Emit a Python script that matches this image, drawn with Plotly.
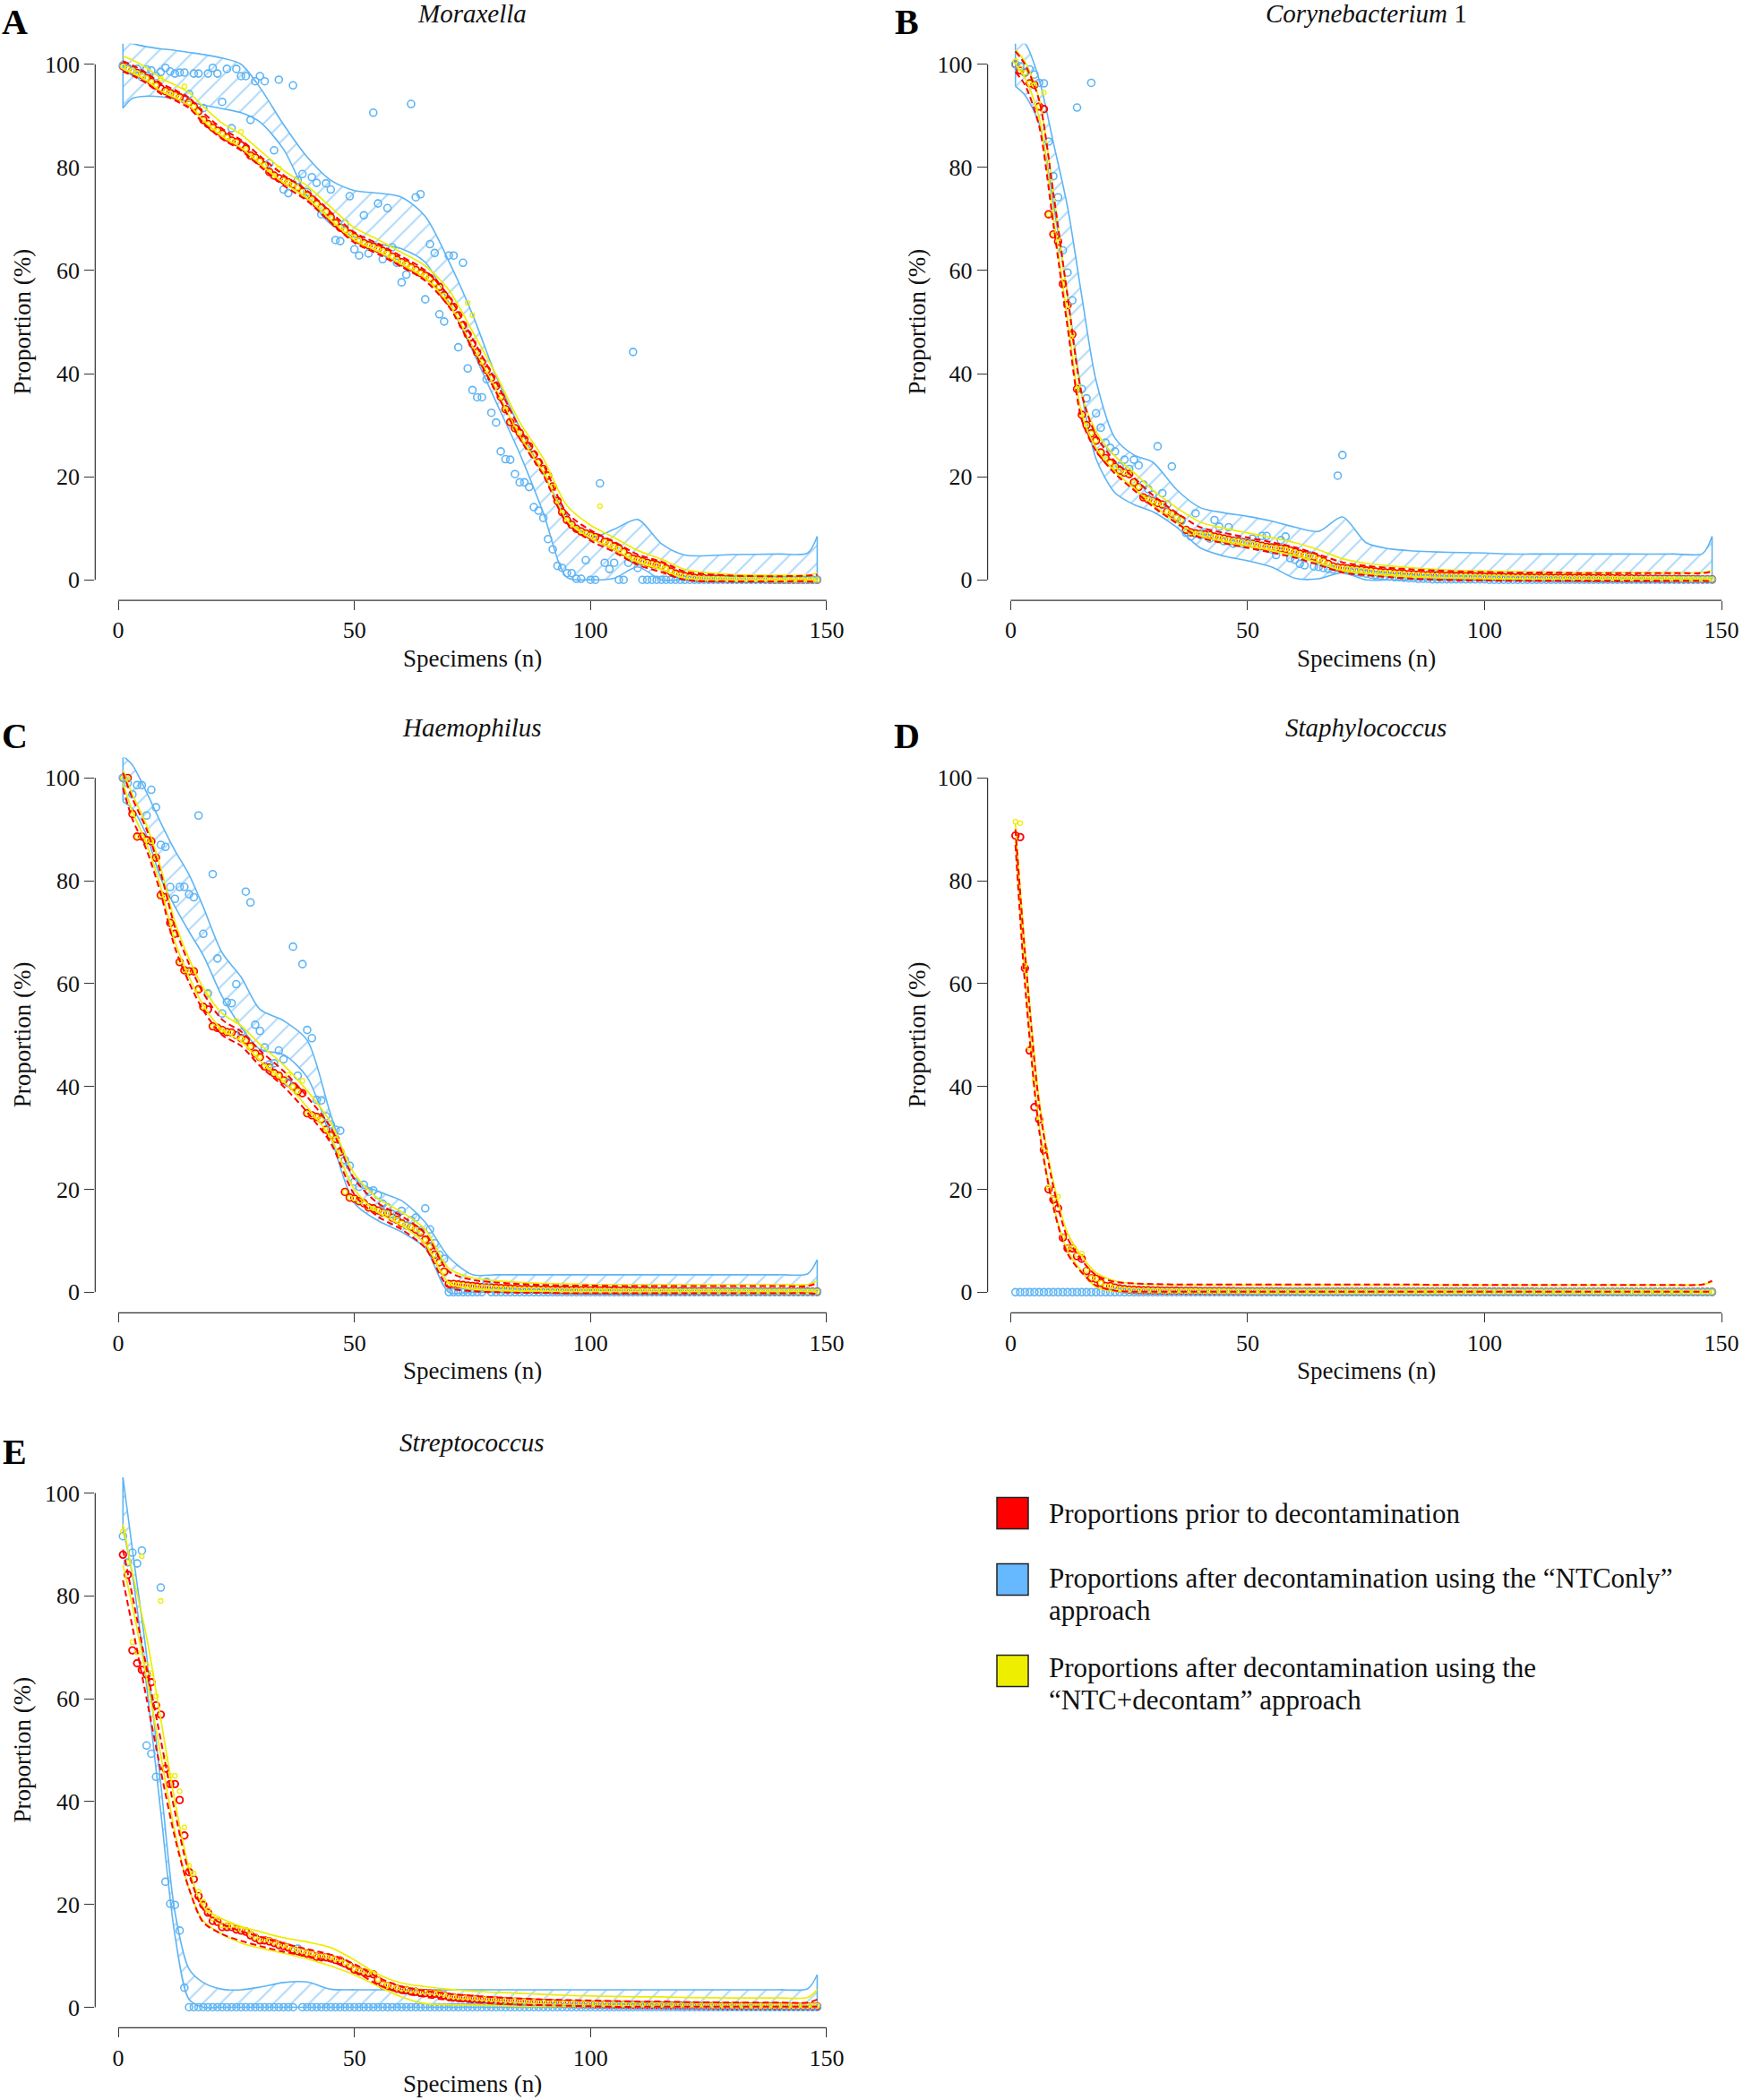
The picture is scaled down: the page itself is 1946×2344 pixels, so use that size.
import plotly.graph_objects as go

W, H = 1946, 2344
SPECIMENS = list(range(1, 149))
KNOTS = [1, 3, 6, 9, 12, 15, 18, 22, 26, 30, 35, 40, 45, 50, 55, 60, 65, 70, 75, 80,
         85, 90, 95, 100, 105, 110, 115, 120, 130, 140, 146, 148]
X_TICKS = [0, 50, 100, 150]
Y_TICKS = [0, 20, 40, 60, 80, 100]

# ---------------- Panel A : Moraxella ----------------
A_prior = [99.6, 99.2, 98.8, 98.3, 97.9, 97.3, 96.6, 95.9, 95.3, 94.8,
           94.4, 94.0, 93.6, 93.2, 92.6, 91.8, 90.9, 89.2, 88.4, 87.7,
           87.1, 86.5, 85.8, 85.2, 84.9, 84.3, 83.6, 82.3, 81.9, 81.2,
           80.4, 79.1, 78.4, 77.9, 77.5, 77.1, 76.7, 76.1, 75.3, 74.6,
           73.8, 72.9, 72.2, 71.4, 70.3, 69.2, 68.3, 67.8, 67.1, 66.5,
           65.9, 65.3, 64.9, 64.6, 64.2, 63.8, 63.3, 62.7, 62.1, 61.6,
           61.2, 60.6, 60.1, 59.5, 59.0, 58.5, 57.6, 56.8, 55.2, 54.1,
           52.9, 51.3, 49.4, 47.6, 45.8, 44.1, 42.3, 40.7, 39.2, 37.6,
           35.5, 33.1, 30.6, 29.4, 28.5, 27.2, 25.9, 24.3, 22.8, 21.5,
           20.2, 18.1, 15.3, 13.1, 11.6, 10.7, 9.9, 9.4, 9.0, 8.6,
           8.3, 7.9, 7.4, 7.0, 6.5, 6.1, 5.4, 4.6, 4.1, 3.9,
           3.6, 3.3, 3.1, 2.9, 2.7, 2.2, 1.6, 1.2, 0.9, 0.7,
           0.5, 0.4, 0.3, 0.3, 0.2, 0.2, 0.2, 0.2, 0.1, 0.1,
           0.1, 0.1, 0.1, 0.1, 0.1, 0.1, 0.1, 0.0, 0.0, 0.0,
           0.0, 0.0, 0.0, 0.0, 0.0, 0.0, 0.0, 0.0]
A_ntconly = [99.8, 99.3, 98.6, 99.1, 97.5, 99.0, 98.8, 97.7, 98.5, 99.3,
             98.6, 98.2, 98.4, 98.4, 94.2, 98.2, 98.2, 91.5, 98.2, 99.3,
             98.2, 92.7, 99.1, 87.6, 99.1, 97.7, 97.7, 89.2, 96.7, 97.7,
             96.7, 80.8, 83.3, 97.0, 75.7, 75.0, 95.9, 77.5, 78.7, 75.2,
             78.1, 77.0, 70.9, 76.9, 75.7, 65.9, 65.7, 69.1, 74.4, 64.1,
             62.9, 70.7, 63.3, 90.6, 73.0, 62.2, 72.1, 64.5, 61.5, 57.7,
             59.2, 92.3, 74.2, 74.8, 54.4, 65.1, 63.4, 51.5, 50.1, 62.9,
             62.9, 45.1, 61.5, 41.0, 36.8, 35.4, 35.4, 38.9, 32.4, 30.5,
             24.9, 23.4, 23.3, 20.5, 18.9, 18.9, 18.0, 14.1, 13.4, 12.0,
             7.9, 5.9, 2.7, 2.3, 1.3, 1.3, 0.2, 0.2, 3.8, 0.0,
             0.0, 18.7, 3.3, 2.1, 3.3, 0.0, 0.0, 3.3, 44.2, 2.3,
             0.0, 0.0, 0.0, 0.0, 0.0, 0.0, 0.0, 0.0, 0.0, 0.0,
             0.0, 0.0, 0.0, 0.0, 0.0, 0.0, 0.0, 0.0, 0.0, 0.0,
             0.0, 0.0, 0.0, 0.0, 0.0, 0.0, 0.0, 0.0, 0.0, 0.0,
             0.0, 0.0, 0.0, 0.0, 0.0, 0.0, 0.0, 0.0]
A_decontam = [99.6, 99.2, 98.8, 98.3, 97.9, 97.3, 96.6, 95.9, 97.2, 94.8,
              94.4, 94.0, 93.6, 95.7, 92.6, 91.8, 90.9, 89.2, 88.4, 87.7,
              87.1, 86.5, 85.8, 85.2, 84.9, 86.9, 83.6, 82.3, 81.9, 81.2,
              80.4, 79.1, 78.4, 79.8, 77.5, 77.1, 76.7, 76.1, 75.3, 74.6,
              73.8, 72.9, 72.2, 71.4, 70.3, 69.2, 68.3, 67.8, 67.1, 66.5,
              65.9, 65.3, 64.9, 64.6, 64.2, 63.8, 63.3, 62.7, 62.1, 61.6,
              61.2, 60.6, 60.1, 59.5, 59.0, 58.5, 57.6, 56.8, 55.2, 54.1,
              52.9, 51.3, 49.4, 53.7, 51.3, 44.1, 42.3, 40.7, 39.2, 37.6,
              35.5, 33.1, 30.6, 29.4, 28.5, 27.2, 25.9, 24.3, 22.8, 21.5,
              20.2, 18.1, 15.3, 13.1, 11.6, 10.7, 9.9, 9.4, 9.0, 8.6,
              8.3, 14.3, 7.4, 7.0, 6.5, 6.1, 5.4, 4.6, 4.1, 3.9,
              3.6, 3.3, 3.1, 2.9, 2.7, 2.2, 1.6, 1.2, 0.9, 0.7,
              0.5, 0.4, 0.3, 0.3, 0.2, 0.2, 0.2, 0.2, 0.1, 0.1,
              0.1, 0.1, 0.1, 0.1, 0.1, 0.1, 0.1, 0.0, 0.0, 0.0,
              0.0, 0.0, 0.0, 0.0, 0.0, 0.0, 0.0, 0.0]
A_ntc_band_up = [104.4, 104.0, 103.4, 103.0, 102.7, 102.3, 101.9, 101.2, 100.0, 95.5, 88.3, 82.0,
                 77.5, 75.5, 75.0, 74.2, 70.5, 61.8, 51.5, 39.5, 29.5, 20.5, 12.5, 8.3, 9.8, 11.7,
                 7.0, 4.8, 4.9, 5.0, 5.2, 8.4]
A_ntc_band_lo = [91.5, 93.4, 93.8, 93.7, 93.3, 92.8, 92.1, 91.4, 90.6, 88.8, 83.5, 74.5,
                 69.0, 66.5, 65.2, 64.2, 61.6, 53.8, 44.5, 34.5, 24.5, 13.0, 0.5, 0.0, 0.3, 2.5,
                 0.0, 0.0, 0.0, 0.0, 0.0, 0.0]
A_prior_ci_up = [100.6, 99.8, 98.3, 96.3, 95.0, 93.5, 90.6, 87.5, 85.3, 82.2, 78.5, 75.5,
                 71.3, 67.4, 65.2, 62.7, 60.0, 55.0, 46.8, 38.4, 29.4, 22.3, 13.0, 9.6, 7.4, 4.9,
                 3.5, 1.6, 0.8, 0.7, 0.8, 1.0]
A_prior_ci_lo = [98.6, 97.8, 96.3, 94.3, 93.0, 91.5, 88.6, 85.5, 83.3, 80.2, 76.5, 73.5,
                 69.3, 65.4, 63.2, 60.7, 58.0, 53.0, 44.8, 36.4, 27.4, 20.3, 11.0, 7.6, 5.4, 2.9,
                 1.5, 0.0, -0.3, -0.3, -0.3, -0.4]
A_dec_ci_up = [101.6, 100.8, 99.3, 97.3, 96.0, 94.5, 91.8, 88.6, 86.4, 83.3, 79.4, 76.4,
               72.3, 68.3, 66.0, 63.5, 60.9, 56.2, 48.2, 39.8, 30.6, 23.5, 14.4, 10.6, 8.2, 5.7,
               4.0, 2.0, 1.0, 0.9, 0.9, 1.3]
A_dec_ci_lo = [99.1, 98.3, 96.8, 94.8, 93.5, 92.0, 89.1, 86.0, 83.8, 80.7, 77.0, 74.0,
               69.8, 65.9, 63.7, 61.2, 58.5, 53.5, 45.3, 36.9, 27.9, 20.8, 11.5, 8.1, 5.9, 3.4,
               2.0, 0.3, 0.0, 0.0, 0.0, 0.0]

# ---------------- Panel B : Corynebacterium 1 ----------------
B_prior = [100.0, 98.8, 98.4, 96.3, 96.0, 91.8, 91.3, 70.9, 67.0, 65.6,
           57.4, 53.3, 47.6, 37.0, 32.0, 30.0, 28.4, 27.0, 24.7, 23.6,
           22.7, 21.9, 21.2, 20.8, 20.5, 18.9, 18.0, 16.0, 15.6, 15.3,
           14.9, 14.6, 13.2, 12.8, 12.1, 11.6, 9.7, 9.2, 9.0, 8.9,
           8.8, 8.7, 8.4, 8.2, 8.0, 7.8, 7.6, 7.5, 7.3, 7.1,
           7.0, 6.8, 6.6, 6.4, 6.3, 6.2, 6.1, 6.0, 5.7, 5.4,
           5.1, 4.8, 4.6, 4.5, 4.0, 3.6, 3.1, 2.6, 2.4, 2.3,
           2.2, 2.1, 2.0, 1.9, 1.8, 1.7, 1.6, 1.5, 1.45, 1.4,
           1.3, 1.25, 1.2, 1.1, 1.05, 1.0, 0.95, 0.9, 0.88, 0.85,
           0.8, 0.78, 0.75, 0.72, 0.7, 0.68, 0.66, 0.64, 0.62, 0.6,
           0.58, 0.56, 0.55, 0.53, 0.52, 0.5, 0.49, 0.48, 0.46, 0.45,
           0.44, 0.43, 0.42, 0.41, 0.4, 0.39, 0.38, 0.37, 0.36, 0.35,
           0.34, 0.33, 0.32, 0.31, 0.3, 0.3, 0.29, 0.28, 0.27, 0.26,
           0.25, 0.24, 0.23, 0.22, 0.21, 0.2, 0.19, 0.18, 0.17, 0.16,
           0.15, 0.14, 0.13, 0.12, 0.11, 0.1, 0.1, 0.1]
B_ntconly = [100.0, 99.6, 98.5, 99.0, 98.0, 96.4, 96.3, 85.0, 78.3, 74.2,
             63.9, 59.6, 54.2, 91.6, 37.0, 35.2, 96.4, 32.3, 29.5, 26.6,
             25.6, 24.9, 22.0, 23.3, 21.5, 23.3, 22.2, 18.5, 17.6, 16.5,
             25.9, 16.8, 14.6, 22.0, 11.8, 11.4, 9.1, 8.4, 12.9, 8.7,
             9.2, 8.0, 11.6, 10.3, 7.5, 10.2, 7.0, 7.8, 6.9, 7.3,
             8.0, 6.5, 8.5, 8.5, 5.9, 4.8, 7.7, 8.4, 4.2, 3.9,
             3.1, 2.8, 4.8, 2.6, 2.5, 2.3, 2.1, 2.0, 20.2, 24.2,
             1.8, 1.6, 1.5, 1.4, 1.2, 1.0, 0.9, 0.8, 0.7, 0.6,
             0.5, 0.5, 0.4, 0.3, 0.3, 0.2, 0.2, 0.2, 0.1, 0.1,
             0.1, 0.1, 0.1, 0.1, 0.1, 0.1, 0.1, 0.1, 0.1, 0.1,
             0.0, 0.0, 0.0, 0.0, 0.0, 0.0, 0.0, 0.0, 0.0, 0.0,
             0.0, 0.0, 0.0, 0.0, 0.0, 0.0, 0.0, 0.0, 0.0, 0.0,
             0.0, 0.0, 0.0, 0.0, 0.0, 0.0, 0.0, 0.0, 0.0, 0.0,
             0.0, 0.0, 0.0, 0.0, 0.0, 0.0, 0.0, 0.0, 0.0, 0.0,
             0.0, 0.0, 0.0, 0.0, 0.0, 0.0, 0.0, 0.0]
B_decontam = [100.6, 99.2, 98.4, 96.3, 96.0, 91.8, 94.5, 70.9, 67.0, 65.6,
              57.4, 53.3, 47.6, 37.0, 32.0, 30.0, 28.4, 27.0, 24.7, 23.6,
              22.7, 21.9, 21.2, 20.8, 20.5, 18.9, 18.0, 16.0, 15.6, 15.3,
              14.9, 14.6, 13.2, 12.8, 12.1, 11.6, 9.7, 9.2, 9.0, 8.9,
              8.8, 8.7, 8.4, 8.2, 8.0, 7.8, 7.6, 7.5, 7.3, 7.1,
              7.0, 6.8, 6.6, 6.4, 6.3, 6.2, 6.1, 6.0, 5.7, 5.4,
              5.1, 4.8, 4.6, 4.5, 4.0, 3.6, 3.1, 2.6, 2.4, 2.3,
              2.2, 2.1, 2.0, 1.9, 1.8, 1.7, 1.6, 1.5, 1.45, 1.4,
              1.3, 1.25, 1.2, 1.1, 1.05, 1.0, 0.95, 0.9, 0.88, 0.85,
              0.8, 0.78, 0.75, 0.72, 0.7, 0.68, 0.66, 0.64, 0.62, 0.6,
              0.58, 0.56, 0.55, 0.53, 0.52, 0.5, 0.49, 0.48, 0.46, 0.45,
              0.44, 0.43, 0.42, 0.41, 0.4, 0.39, 0.38, 0.37, 0.36, 0.35,
              0.34, 0.33, 0.32, 0.31, 0.3, 0.3, 0.29, 0.28, 0.27, 0.26,
              0.25, 0.24, 0.23, 0.22, 0.21, 0.2, 0.19, 0.18, 0.17, 0.16,
              0.15, 0.14, 0.13, 0.12, 0.11, 0.1, 0.1, 0.1]
B_ntc_band_up = [104.3, 104.0, 97.0, 84.8, 72.3, 55.0, 38.7, 27.5, 24.2, 22.8, 17.5, 14.0,
                 13.0, 12.3, 11.4, 10.2, 9.4, 12.2, 7.2, 6.0, 5.6, 5.4, 5.3, 5.2, 5.0, 5.0,
                 5.0, 5.0, 5.0, 5.0, 5.1, 8.4]
B_ntc_band_lo = [95.7, 94.0, 88.5, 73.0, 55.2, 36.0, 23.5, 16.9, 14.6, 13.2, 10.2, 6.2,
                 4.6, 3.7, 2.5, 0.3, 0.2, 1.4, 0.0, 0.0, 0.0, 0.0, 0.0, 0.0, 0.0, 0.0,
                 0.0, 0.0, 0.0, 0.0, 0.0, 0.0]
B_prior_ci_up = [102.5, 100.0, 93.0, 75.0, 55.0, 36.0, 28.0, 23.0, 19.8, 16.4, 13.0, 10.2,
                 9.1, 8.2, 7.3, 6.3, 4.9, 3.4, 2.7, 2.3, 2.0, 1.8, 1.6, 1.5, 1.4, 1.4,
                 1.4, 1.3, 1.3, 1.3, 1.3, 1.6]
B_prior_ci_lo = [98.5, 96.0, 88.0, 69.0, 49.0, 31.0, 25.0, 20.6, 17.4, 14.2, 11.0, 8.2,
                 7.1, 6.2, 5.3, 4.3, 2.9, 1.4, 0.9, 0.5, 0.2, 0.0, -0.1, -0.1, -0.2, -0.2,
                 -0.2, -0.2, -0.2, -0.2, -0.2, -0.3]
B_dec_ci_up = [102.8, 100.5, 93.3, 75.2, 55.0, 36.0, 28.8, 24.0, 20.8, 17.4, 14.0, 11.2,
               10.0, 9.1, 8.2, 7.2, 5.8, 4.1, 3.2, 2.7, 2.3, 2.0, 1.8, 1.7, 1.6, 1.5,
               1.5, 1.4, 1.4, 1.4, 1.4, 1.8]
B_dec_ci_lo = [100.0, 97.4, 89.7, 70.5, 50.5, 32.2, 25.6, 21.0, 17.8, 14.5, 11.2, 8.5,
               7.4, 6.5, 5.7, 4.7, 3.3, 1.8, 1.2, 0.8, 0.5, 0.4, 0.3, 0.2, 0.2, 0.1,
               0.1, 0.1, 0.1, 0.1, 0.1, 0.1]

# ---------------- Panel C : Haemophilus ----------------
C_prior = [100.0, 100.0, 93.0, 88.6, 88.6, 87.9, 87.7, 84.5, 77.2, 76.8,
           71.8, 69.7, 64.2, 62.6, 62.4, 62.4, 58.9, 55.5, 55.0, 51.7,
           51.4, 51.0, 50.6, 50.5, 50.0, 49.4, 49.0, 47.8, 46.4, 45.7,
           43.9, 43.7, 42.6, 42.1, 41.2, 40.7, 40.0, 39.1, 38.7, 34.8,
           34.4, 34.1, 33.6, 31.6, 30.5, 29.8, 27.3, 19.5, 18.4, 18.2,
           17.7, 17.3, 16.5, 16.3, 15.9, 15.5, 15.3, 14.5, 14.1, 13.4,
           13.0, 12.7, 12.2, 11.6, 10.2, 8.9, 7.3, 5.8, 4.0, 1.6,
           1.6, 1.5, 1.4, 1.3, 1.2, 1.1, 1.0, 0.95, 0.9, 0.85,
           0.8, 0.75, 0.7, 0.65, 0.6, 0.58, 0.56, 0.54, 0.52, 0.5,
           0.48, 0.46, 0.44, 0.42, 0.4, 0.39, 0.38, 0.37, 0.36, 0.35,
           0.34, 0.33, 0.32, 0.31, 0.3, 0.29, 0.28, 0.27, 0.26, 0.25,
           0.24, 0.23, 0.22, 0.21, 0.2, 0.2, 0.19, 0.19, 0.18, 0.18,
           0.17, 0.17, 0.16, 0.16, 0.15, 0.15, 0.14, 0.14, 0.13, 0.13,
           0.12, 0.12, 0.12, 0.11, 0.11, 0.11, 0.1, 0.1, 0.1, 0.1,
           0.1, 0.1, 0.1, 0.1, 0.1, 0.1, 0.1, 0.1]
C_ntconly = [100.0, 99.0, 96.8, 98.6, 98.6, 92.7, 97.7, 94.3, 87.0, 86.6,
             78.8, 76.5, 78.8, 78.8, 77.4, 76.8, 92.7, 69.7, 58.1, 81.3,
             64.9, 54.2, 56.4, 56.2, 59.9, 50.5, 77.9, 75.8, 52.0, 50.8,
             47.6, 44.3, 44.5, 47.0, 45.3, 40.8, 67.2, 42.1, 63.8, 51.0,
             49.4, 37.4, 37.3, 34.2, 32.6, 31.6, 31.4, 25.7, 24.6, 21.5,
             20.5, 20.9, 19.5, 19.8, 18.9, 17.2, 16.5, 15.2, 15.0, 15.8,
             13.0, 14.0, 14.5, 12.0, 16.3, 12.2, 9.5, 7.3, 6.5, 0.0,
             0.0, 0.0, 0.0, 0.0, 0.0, 0.0, 0.0, 2.0, 0.0, 0.0,
             0.0, 0.0, 0.0, 0.0, 0.0, 0.0, 0.0, 0.0, 0.0, 0.0,
             0.0, 0.0, 0.0, 0.0, 0.0, 0.0, 0.0, 0.0, 0.0, 0.0,
             0.0, 0.0, 0.0, 0.0, 0.0, 0.0, 0.0, 0.0, 0.0, 0.0,
             0.0, 0.0, 0.0, 0.0, 0.0, 0.0, 0.0, 0.0, 0.0, 0.0,
             0.0, 0.0, 0.0, 0.0, 0.0, 0.0, 0.0, 0.0, 0.0, 0.0,
             0.0, 0.0, 0.0, 0.0, 0.0, 0.0, 0.0, 0.0, 0.0, 0.0,
             0.0, 0.0, 0.0, 0.0, 0.0, 0.0, 0.0, 0.0]
C_decontam = [100.0, 100.0, 93.0, 88.6, 88.6, 87.9, 87.7, 84.5, 77.2, 76.8,
              71.8, 69.7, 64.2, 62.6, 62.4, 62.4, 58.9, 55.5, 58.1, 51.7,
              51.4, 51.0, 50.6, 50.5, 52.8, 49.4, 49.0, 47.8, 46.4, 45.7,
              43.9, 43.7, 42.6, 42.1, 41.2, 42.3, 40.0, 39.1, 41.1, 34.8,
              34.4, 34.1, 33.6, 31.6, 30.5, 29.8, 27.3, 19.5, 18.4, 18.2,
              17.7, 17.3, 16.5, 16.3, 15.9, 15.5, 15.3, 14.5, 14.1, 13.4,
              13.0, 12.7, 12.2, 11.6, 10.2, 8.9, 7.3, 5.8, 4.0, 1.6,
              1.6, 1.5, 1.4, 1.3, 1.2, 1.1, 1.0, 0.95, 0.9, 0.85,
              0.8, 0.75, 0.7, 0.65, 0.6, 0.58, 0.56, 0.54, 0.52, 0.5,
              0.48, 0.46, 0.44, 0.42, 0.4, 0.39, 0.38, 0.37, 0.36, 0.35,
              0.34, 0.33, 0.32, 0.31, 0.3, 0.29, 0.28, 0.27, 0.26, 0.25,
              0.24, 0.23, 0.22, 0.21, 0.2, 0.2, 0.19, 0.19, 0.18, 0.18,
              0.17, 0.17, 0.16, 0.16, 0.15, 0.15, 0.14, 0.14, 0.13, 0.13,
              0.12, 0.12, 0.12, 0.11, 0.11, 0.11, 0.1, 0.1, 0.1, 0.1,
              0.1, 0.1, 0.1, 0.1, 0.1, 0.1, 0.1, 0.1]
C_ntc_band_up = [104.3, 102.5, 97.2, 91.3, 85.9, 81.2, 74.9, 66.0, 61.3, 55.0, 52.8, 49.0,
                 34.5, 22.0, 19.6, 17.8, 13.6, 6.8, 3.4, 3.4, 3.4, 3.4, 3.4, 3.4, 3.4, 3.4,
                 3.4, 3.4, 3.4, 3.4, 3.6, 6.3]
C_ntc_band_lo = [95.4, 94.0, 88.8, 80.5, 75.0, 70.1, 65.5, 57.5, 51.6, 47.2, 46.2, 41.8,
                 30.1, 17.3, 13.9, 11.7, 8.6, 0.0, 0.0, 0.0, 0.0, 0.0, 0.0, 0.0, 0.0, 0.0,
                 0.0, 0.0, 0.0, 0.0, 0.0, 0.0]
C_prior_ci_up = [101.0, 96.0, 90.0, 81.5, 71.0, 63.8, 58.2, 53.0, 50.7, 47.0, 43.0, 38.0,
                 32.0, 22.0, 17.3, 14.8, 11.4, 4.0, 2.4, 1.9, 1.6, 1.4, 1.3, 1.3, 1.2, 1.2,
                 1.2, 1.2, 1.2, 1.2, 1.2, 1.8]
C_prior_ci_lo = [98.0, 92.0, 86.0, 77.5, 67.0, 60.2, 54.8, 50.0, 47.9, 44.0, 40.0, 35.0,
                 29.0, 19.0, 14.7, 12.2, 8.6, 1.0, 0.2, 0.0, -0.1, -0.1, -0.2, -0.2, -0.2, -0.2,
                 -0.2, -0.2, -0.2, -0.2, -0.2, -0.4]
C_dec_ci_up = [101.5, 96.8, 90.8, 82.5, 72.0, 64.8, 59.2, 54.2, 51.8, 48.2, 44.2, 39.2,
               33.0, 23.0, 18.2, 15.6, 12.2, 4.6, 2.8, 2.2, 1.9, 1.7, 1.6, 1.5, 1.5, 1.5,
               1.5, 1.5, 1.5, 1.5, 1.5, 2.2]
C_dec_ci_lo = [99.0, 93.5, 87.2, 78.8, 68.2, 61.3, 55.8, 51.0, 48.8, 45.0, 41.0, 36.0,
               30.0, 20.0, 15.5, 13.0, 9.4, 1.8, 0.6, 0.3, 0.2, 0.2, 0.1, 0.1, 0.1, 0.1,
               0.1, 0.1, 0.1, 0.1, 0.1, 0.1]

# ---------------- Panel D : Staphylococcus ----------------
D_prior = [88.8, 88.5, 63.0, 47.0, 36.0, 33.6, 27.7, 20.0, 18.0, 16.3,
           10.6, 8.5, 8.5, 7.0, 6.5, 4.1, 2.7, 2.6, 1.8, 1.2,
           1.2, 0.9, 0.7, 0.6, 0.5, 0.45, 0.4, 0.38, 0.36, 0.34,
           0.32, 0.3, 0.29, 0.28, 0.27, 0.26, 0.25, 0.24, 0.23, 0.22,
           0.21, 0.2, 0.2, 0.19, 0.19, 0.18, 0.18, 0.17, 0.17, 0.16,
           0.16, 0.15, 0.15, 0.15, 0.14, 0.14, 0.14, 0.13, 0.13, 0.13,
           0.12, 0.12, 0.12, 0.12, 0.12, 0.12, 0.12, 0.12, 0.12, 0.12,
           0.11, 0.11, 0.11, 0.11, 0.11, 0.11, 0.11, 0.11, 0.11, 0.11,
           0.1, 0.1, 0.1, 0.1, 0.1, 0.1, 0.1, 0.1, 0.1, 0.1,
           0.1, 0.1, 0.1, 0.1, 0.1, 0.1, 0.1, 0.1, 0.1, 0.1,
           0.09, 0.09, 0.09, 0.09, 0.09, 0.09, 0.09, 0.09, 0.09, 0.09,
           0.08, 0.08, 0.08, 0.08, 0.08, 0.08, 0.08, 0.08, 0.08, 0.08,
           0.07, 0.07, 0.07, 0.07, 0.07, 0.07, 0.07, 0.07, 0.07, 0.07,
           0.06, 0.06, 0.06, 0.06, 0.06, 0.06, 0.06, 0.06, 0.06, 0.06,
           0.05, 0.05, 0.05, 0.05, 0.05, 0.05, 0.05, 0.05]
D_ntconly = [0.0, 0.0, 0.0, 0.0, 0.0, 0.0, 0.0, 0.0, 0.0, 0.0,
             0.0, 0.0, 0.0, 0.0, 0.0, 0.0, 0.0, 0.0, 0.0, 0.0,
             0.0, 0.0, 0.0, 0.0, 0.0, 0.0, 0.0, 0.0, 0.0, 0.0,
             0.0, 0.0, 0.0, 0.0, 0.0, 0.0, 0.0, 0.0, 0.0, 0.0,
             0.0, 0.0, 0.0, 0.0, 0.0, 0.0, 0.0, 0.0, 0.0, 0.0,
             0.0, 0.0, 0.0, 0.0, 0.0, 0.0, 0.0, 0.0, 0.0, 0.0,
             0.0, 0.0, 0.0, 0.0, 0.0, 0.0, 0.0, 0.0, 0.0, 0.0,
             0.0, 0.0, 0.0, 0.0, 0.0, 0.0, 0.0, 0.0, 0.0, 0.0,
             0.0, 0.0, 0.0, 0.0, 0.0, 0.0, 0.0, 0.0, 0.0, 0.0,
             0.0, 0.0, 0.0, 0.0, 0.0, 0.0, 0.0, 0.0, 0.0, 0.0,
             0.0, 0.0, 0.0, 0.0, 0.0, 0.0, 0.0, 0.0, 0.0, 0.0,
             0.0, 0.0, 0.0, 0.0, 0.0, 0.0, 0.0, 0.0, 0.0, 0.0,
             0.0, 0.0, 0.0, 0.0, 0.0, 0.0, 0.0, 0.0, 0.0, 0.0,
             0.0, 0.0, 0.0, 0.0, 0.0, 0.0, 0.0, 0.0, 0.0, 0.0,
             0.0, 0.0, 0.0, 0.0, 0.0, 0.0, 0.0, 0.0]
D_decontam = [91.5, 91.2, 63.5, 47.5, 41.2, 33.8, 28.0, 20.3, 18.2, 18.6,
              10.8, 8.7, 8.7, 7.3, 7.5, 4.3, 2.8, 2.6, 1.8, 1.2,
              1.2, 0.9, 0.7, 0.6, 0.5, 0.45, 0.4, 0.38, 0.36, 0.34,
              0.32, 0.3, 0.29, 0.28, 0.27, 0.26, 0.25, 0.24, 0.23, 0.22,
              0.21, 0.2, 0.2, 0.19, 0.19, 0.18, 0.18, 0.17, 0.17, 0.16,
              0.16, 0.15, 0.15, 0.15, 0.14, 0.14, 0.14, 0.13, 0.13, 0.13,
              0.12, 0.12, 0.12, 0.12, 0.12, 0.12, 0.12, 0.12, 0.12, 0.12,
              0.11, 0.11, 0.11, 0.11, 0.11, 0.11, 0.11, 0.11, 0.11, 0.11,
              0.1, 0.1, 0.1, 0.1, 0.1, 0.1, 0.1, 0.1, 0.1, 0.1,
              0.1, 0.1, 0.1, 0.1, 0.1, 0.1, 0.1, 0.1, 0.1, 0.1,
              0.09, 0.09, 0.09, 0.09, 0.09, 0.09, 0.09, 0.09, 0.09, 0.09,
              0.08, 0.08, 0.08, 0.08, 0.08, 0.08, 0.08, 0.08, 0.08, 0.08,
              0.07, 0.07, 0.07, 0.07, 0.07, 0.07, 0.07, 0.07, 0.07, 0.07,
              0.06, 0.06, 0.06, 0.06, 0.06, 0.06, 0.06, 0.06, 0.06, 0.06,
              0.05, 0.05, 0.05, 0.05, 0.05, 0.05, 0.05, 0.05]
D_prior_ci_up = [90.0, 66.0, 36.5, 20.5, 10.5, 6.2, 3.3, 2.0, 1.7, 1.6, 1.5, 1.5,
                 1.5, 1.5, 1.5, 1.5, 1.5, 1.5, 1.5, 1.5, 1.5, 1.4, 1.4, 1.4, 1.4, 1.4,
                 1.4, 1.4, 1.4, 1.4, 1.5, 2.2]
D_prior_ci_lo = [87.0, 60.0, 31.5, 16.5, 7.5, 3.8, 1.3, 0.3, 0.1, 0.1, 0.1, 0.1,
                 0.1, 0.1, 0.1, 0.1, 0.1, 0.1, 0.1, 0.1, 0.1, 0.1, 0.1, 0.1, 0.1, 0.1,
                 0.1, 0.1, 0.1, 0.1, 0.1, 0.1]
D_dec_ci_up = [91.0, 67.0, 37.5, 21.5, 11.5, 7.0, 3.8, 2.2, 1.7, 1.5, 1.4, 1.4,
               1.4, 1.4, 1.4, 1.4, 1.4, 1.4, 1.4, 1.4, 1.4, 1.4, 1.4, 1.4, 1.4, 1.4,
               1.4, 1.4, 1.4, 1.4, 1.5, 2.0]
D_dec_ci_lo = [88.0, 61.5, 32.5, 17.0, 8.0, 4.0, 1.0, 0.2, 0.1, 0.1, 0.1, 0.1,
               0.1, 0.1, 0.1, 0.1, 0.1, 0.1, 0.1, 0.1, 0.1, 0.1, 0.1, 0.1, 0.1, 0.1,
               0.1, 0.1, 0.1, 0.1, 0.1, 0.1]

# ---------------- Panel E : Streptococcus ----------------
E_prior = [88.0, 84.1, 69.4, 66.9, 65.6, 64.7, 63.2, 58.7, 56.9, 46.4,
           43.4, 43.4, 40.3, 33.4, 26.3, 24.9, 21.6, 19.9, 18.4, 16.8,
           16.6, 15.6, 15.6, 15.6, 15.1, 14.9, 14.7, 14.0, 13.5, 13.0,
           13.0, 12.8, 12.5, 12.1, 11.9, 11.6, 11.2, 10.9, 10.7, 10.4,
           10.2, 9.8, 9.7, 9.7, 9.5, 9.2, 9.1, 8.5, 8.0, 7.3,
           7.0, 6.8, 6.6, 6.4, 5.2, 4.3, 4.1, 4.0, 3.6, 3.4,
           3.3, 3.1, 3.0, 2.8, 2.75, 2.7, 2.6, 2.5, 2.3, 2.0,
           1.9, 1.8, 1.75, 1.7, 1.6, 1.55, 1.5, 1.4, 1.35, 1.3,
           1.25, 1.2, 1.15, 1.1, 1.05, 1.0, 0.95, 0.9, 0.87, 0.84,
           0.8, 0.77, 0.74, 0.7, 0.68, 0.65, 0.62, 0.6, 0.58, 0.56,
           0.54, 0.52, 0.5, 0.48, 0.46, 0.45, 0.44, 0.43, 0.42, 0.41,
           0.4, 0.39, 0.38, 0.37, 0.36, 0.35, 0.34, 0.33, 0.32, 0.31,
           0.3, 0.29, 0.28, 0.27, 0.26, 0.25, 0.24, 0.23, 0.22, 0.21,
           0.2, 0.2, 0.19, 0.19, 0.18, 0.18, 0.17, 0.17, 0.16, 0.16,
           0.15, 0.15, 0.15, 0.15, 0.15, 0.15, 0.15, 0.15]
E_ntconly = [91.6, 86.5, 88.4, 86.3, 88.8, 50.9, 49.3, 44.8, 81.6, 24.4,
             20.1, 19.9, 14.9, 3.8, 0.0, 0.0, 0.0, 0.0, 0.0, 0.0,
             0.0, 0.0, 0.0, 0.0, 0.0, 0.0, 0.0, 0.0, 0.0, 0.0,
             0.0, 0.0, 0.0, 0.0, 0.0, 0.0, 0.0, 11.4, 0.0, 0.0,
             0.0, 0.0, 0.0, 0.0, 0.0, 0.0, 0.0, 0.0, 0.0, 0.0,
             0.0, 0.0, 0.0, 0.0, 0.0, 0.0, 0.0, 0.0, 0.0, 0.0,
             0.0, 0.0, 0.0, 0.0, 0.0, 0.0, 0.0, 0.0, 0.0, 0.0,
             0.0, 0.0, 0.0, 0.0, 0.0, 0.0, 0.0, 0.0, 0.0, 0.0,
             0.0, 0.0, 0.0, 0.0, 0.0, 0.0, 0.0, 0.0, 0.0, 0.0,
             0.0, 0.0, 0.0, 0.0, 0.0, 0.0, 0.0, 0.0, 0.0, 0.0,
             0.0, 0.0, 0.0, 0.0, 0.0, 0.0, 0.0, 0.0, 0.0, 0.0,
             0.0, 0.0, 0.0, 0.0, 0.0, 0.0, 0.0, 0.0, 0.0, 0.0,
             0.0, 0.0, 0.0, 0.0, 0.0, 0.0, 0.0, 0.0, 0.0, 0.0,
             0.0, 0.0, 0.0, 0.0, 0.0, 0.0, 0.0, 0.0, 0.0, 0.0,
             0.0, 0.0, 0.0, 0.0, 0.0, 0.0, 0.0, 0.0]
E_decontam = [92.5, 86.5, 71.0, 69.0, 87.7, 66.5, 65.0, 60.5, 79.0, 48.5,
              45.0, 45.0, 42.0, 35.0, 27.5, 26.0, 22.5, 20.5, 19.0, 17.3,
              16.9, 15.9, 15.8, 15.8, 15.3, 15.1, 14.9, 14.2, 13.7, 13.2,
              13.2, 13.0, 12.7, 12.3, 12.1, 11.8, 11.4, 11.1, 10.9, 10.6,
              10.4, 10.0, 9.9, 9.9, 9.7, 9.4, 9.3, 8.7, 8.2, 7.5,
              7.2, 7.0, 6.8, 6.6, 5.4, 4.5, 4.3, 4.2, 3.8, 3.6,
              3.5, 3.3, 3.2, 3.0, 2.9, 2.9, 2.8, 2.7, 2.5, 2.2,
              2.1, 2.0, 1.9, 1.9, 1.8, 1.7, 1.7, 1.6, 1.5, 1.5,
              1.4, 1.4, 1.3, 1.3, 1.2, 1.2, 1.1, 1.1, 1.0, 1.0,
              0.95, 0.92, 0.9, 0.87, 0.85, 0.82, 0.8, 0.78, 0.76, 0.74,
              0.72, 0.7, 0.68, 0.66, 0.64, 0.62, 0.6, 0.58, 0.56, 0.55,
              0.54, 0.53, 0.52, 0.51, 0.5, 0.49, 0.48, 0.47, 0.46, 0.45,
              0.44, 0.43, 0.42, 0.41, 0.4, 0.39, 0.38, 0.37, 0.36, 0.35,
              0.34, 0.33, 0.32, 0.31, 0.3, 0.3, 0.3, 0.3, 0.3, 0.3,
              0.3, 0.3, 0.3, 0.3, 0.3, 0.3, 0.3, 0.3]
E_ntc_band_up = [103.0, 89.0, 68.5, 43.5, 18.5, 7.4, 4.8, 3.5, 3.4, 3.9, 4.8, 4.9,
                 3.5, 3.4, 3.4, 3.4, 3.4, 3.4, 3.4, 3.4, 3.4, 3.4, 3.4, 3.4, 3.4, 3.4,
                 3.4, 3.4, 3.4, 3.4, 3.6, 6.3]
E_ntc_band_lo = [93.0, 84.0, 62.5, 38.0, 14.0, 1.5, 0.0, 0.0, 0.0, 0.0, 0.0, 0.0,
                 0.0, 0.0, 0.0, 0.0, 0.0, 0.0, 0.0, 0.0, 0.0, 0.0, 0.0, 0.0, 0.0, 0.0,
                 0.0, 0.0, 0.0, 0.0, 0.0, 0.0]
E_prior_ci_up = [89.0, 80.0, 66.0, 52.0, 38.0, 26.0, 19.0, 16.2, 14.8, 13.7, 12.4, 11.3,
                 10.2, 8.4, 5.8, 4.0, 3.2, 2.6, 2.2, 1.9, 1.7, 1.5, 1.4, 1.3, 1.2, 1.1,
                 1.1, 1.0, 0.9, 0.9, 0.9, 1.5]
E_prior_ci_lo = [83.0, 74.0, 60.0, 46.0, 33.0, 23.0, 16.5, 14.2, 12.9, 11.9, 10.8, 9.9,
                 8.9, 7.0, 4.4, 2.8, 2.0, 1.4, 1.0, 0.7, 0.5, 0.4, 0.3, 0.2, 0.1, 0.1,
                 0.1, 0.1, 0.1, 0.1, 0.1, 0.1]
E_dec_ci_up = [94.0, 84.5, 72.0, 56.0, 40.0, 27.0, 19.5, 17.2, 15.7, 14.7, 13.5, 12.7,
               11.6, 9.2, 6.4, 4.7, 4.0, 3.5, 3.1, 2.9, 2.7, 2.5, 2.3, 2.2, 2.1, 2.0,
               2.0, 1.9, 1.8, 1.8, 1.9, 3.4]
E_dec_ci_lo = [86.0, 78.0, 64.0, 49.0, 34.0, 23.0, 16.8, 14.2, 12.5, 11.5, 10.5, 9.4,
               8.0, 6.3, 4.1, 2.0, 0.7, 0.5, 0.4, 0.3, 0.2, 0.2, 0.2, 0.2, 0.2, 0.2,
               0.2, 0.2, 0.2, 0.2, 0.2, 0.2]

LEGEND_LABELS = [
    ["Proportions prior to decontamination"],
    ["Proportions after decontamination using the \u201cNTConly\u201d", "approach"],
    ["Proportions after decontamination using the", "\u201cNTC+decontam\u201d approach"],
]

# ---------------- styling ----------------
RED = "#FF0000"
BLUE = "#5EB4F4"
YELLOW = "#EDED00"
AXIS = "#333333"
FONT = "Liberation Serif"


def fx(px):
    return px / W


def fy(py):
    return 1 - py / H


X_RANGE = [-4.88, 153.88]
Y_RANGE = [-4.0, 104.0]

panels = [
    dict(letter="A", title="<i>Moraxella</i>",
         prior=A_prior, ntc=A_ntconly, dec=A_decontam,
         bu=A_ntc_band_up, bl=A_ntc_band_lo, ru=A_prior_ci_up, rl=A_prior_ci_lo,
         yu=A_dec_ci_up, yl=A_dec_ci_lo,
         xpx=(106.3, 943.4), ypx=(48.7, 670.2), letter_xy=(16, 0), title_y=15,
         xtitle_y=735, ytitle_x=25),
    dict(letter="B", title="<i>Corynebacterium</i> 1",
         prior=B_prior, ntc=B_ntconly, dec=B_decontam,
         bu=B_ntc_band_up, bl=B_ntc_band_lo, ru=B_prior_ci_up, rl=B_prior_ci_lo,
         yu=B_dec_ci_up, yl=B_dec_ci_lo,
         xpx=(1102.6, 1942.6), ypx=(48.7, 670.2), letter_xy=(1012, 0), title_y=15,
         xtitle_y=735, ytitle_x=1024),
    dict(letter="C", title="<i>Haemophilus</i>",
         prior=C_prior, ntc=C_ntconly, dec=C_decontam,
         bu=C_ntc_band_up, bl=C_ntc_band_lo, ru=C_prior_ci_up, rl=C_prior_ci_lo,
         yu=C_dec_ci_up, yl=C_dec_ci_lo,
         xpx=(106.3, 943.4), ypx=(845.4, 1465.3), letter_xy=(16, 797), title_y=812,
         xtitle_y=1530, ytitle_x=25),
    dict(letter="D", title="<i>Staphylococcus</i>",
         prior=D_prior, ntc=D_ntconly, dec=D_decontam,
         bu=None, bl=None, ru=D_prior_ci_up, rl=D_prior_ci_lo,
         yu=D_dec_ci_up, yl=D_dec_ci_lo,
         xpx=(1102.6, 1942.6), ypx=(845.4, 1465.3), letter_xy=(1012, 797), title_y=812,
         xtitle_y=1530, ytitle_x=1024),
    dict(letter="E", title="<i>Streptococcus</i>",
         prior=E_prior, ntc=E_ntconly, dec=E_decontam,
         bu=E_ntc_band_up, bl=E_ntc_band_lo, ru=E_prior_ci_up, rl=E_prior_ci_lo,
         yu=E_dec_ci_up, yl=E_dec_ci_lo,
         xpx=(106.3, 943.4), ypx=(1643.5, 2263.4), letter_xy=(16, 1596), title_y=1610,
         xtitle_y=2326, ytitle_x=25),
]

fig = go.Figure()
shapes = []
annotations = []
layout_axes = {}

for i, p in enumerate(panels, start=1):
    for arr in (p["prior"], p["ntc"], p["dec"]):
        assert len(arr) == len(SPECIMENS), (p["letter"], len(arr))
    xa = "x" if i == 1 else f"x{i}"
    ya = "y" if i == 1 else f"y{i}"
    xkey = "xaxis" if i == 1 else f"xaxis{i}"
    ykey = "yaxis" if i == 1 else f"yaxis{i}"

    # hatched NTConly confidence band
    if p["bu"] is not None:
        fig.add_trace(go.Scatter(x=KNOTS, y=p["bl"], mode="lines", xaxis=xa, yaxis=ya,
                                 line=dict(color=BLUE, width=1.6, shape="spline", smoothing=0.8),
                                 hoverinfo="skip"))
        fig.add_trace(go.Scatter(x=KNOTS, y=p["bu"], mode="lines", xaxis=xa, yaxis=ya,
                                 line=dict(color=BLUE, width=1.6, shape="spline", smoothing=0.8),
                                 fill="tonexty", fillcolor="rgba(0,0,0,0)",
                                 fillpattern=dict(shape="/", fgcolor=BLUE, bgcolor="rgba(0,0,0,0)",
                                                  size=14, solidity=0.14),
                                 hoverinfo="skip"))
        fig.add_trace(go.Scatter(x=[KNOTS[0], KNOTS[0], None, KNOTS[-1], KNOTS[-1]],
                                 y=[p["bl"][0], p["bu"][0], None, p["bl"][-1], p["bu"][-1]],
                                 mode="lines", xaxis=xa, yaxis=ya,
                                 line=dict(color=BLUE, width=1.6), hoverinfo="skip"))

    # points
    fig.add_trace(go.Scatter(x=SPECIMENS, y=p["prior"], mode="markers", xaxis=xa, yaxis=ya,
                             marker=dict(symbol="circle-open", size=7.5, color=RED,
                                         line=dict(width=1.9))))
    fig.add_trace(go.Scatter(x=SPECIMENS, y=p["ntc"], mode="markers", xaxis=xa, yaxis=ya,
                             marker=dict(symbol="circle-open", size=8, color=BLUE,
                                         line=dict(width=1.6))))
    fig.add_trace(go.Scatter(x=SPECIMENS, y=p["dec"], mode="markers", xaxis=xa, yaxis=ya,
                             marker=dict(symbol="circle-open", size=5, color=YELLOW,
                                         line=dict(width=1.3))))

    # NTC+decontam CI lines (yellow)
    for arr in (p["yu"], p["yl"]):
        fig.add_trace(go.Scatter(x=KNOTS, y=arr, mode="lines", xaxis=xa, yaxis=ya,
                                 line=dict(color=YELLOW, width=1.7, shape="spline", smoothing=0.8),
                                 hoverinfo="skip"))
    # prior CI lines (red dashed)
    for arr in (p["ru"], p["rl"]):
        fig.add_trace(go.Scatter(x=KNOTS, y=arr, mode="lines", xaxis=xa, yaxis=ya,
                                 line=dict(color=RED, width=2.0, dash="7px,4px",
                                           shape="spline", smoothing=0.8),
                                 hoverinfo="skip"))

    xd = [fx(p["xpx"][0]), fx(p["xpx"][1])]
    yd = [fy(p["ypx"][1]), fy(p["ypx"][0])]
    layout_axes[xkey] = dict(domain=xd, range=X_RANGE, anchor=ya, tickvals=X_TICKS,
                             ticks="outside", ticklen=10, tickwidth=1.2, tickcolor=AXIS,
                             showgrid=False, zeroline=False, showline=False,
                             tickfont=dict(family=FONT, size=26, color="#111"))
    layout_axes[ykey] = dict(domain=yd, range=Y_RANGE, anchor=xa, tickvals=Y_TICKS,
                             ticks="outside", ticklen=11, tickwidth=1.2, tickcolor=AXIS,
                             showgrid=False, zeroline=False, showline=False,
                             tickfont=dict(family=FONT, size=26, color="#111"))

    # R-style detached axis lines
    shapes.append(dict(type="line", xref=f"{xa} domain", yref=ya, x0=0, x1=0,
                       y0=Y_TICKS[0], y1=Y_TICKS[-1], line=dict(color=AXIS, width=1.2)))
    shapes.append(dict(type="line", xref=xa, yref=f"{ya} domain", x0=X_TICKS[0], x1=X_TICKS[-1],
                       y0=0, y1=0, line=dict(color=AXIS, width=1.2)))

    annotations.append(dict(text=p["title"], xref=xa, yref="paper", x=75, y=fy(p["title_y"]),
                            xanchor="center", yanchor="middle", showarrow=False,
                            font=dict(family=FONT, size=29, color="#111")))
    annotations.append(dict(text=f"<b>{p['letter']}</b>", xref="paper", yref="paper",
                            x=fx(p["letter_xy"][0]), y=fy(p["letter_xy"][1]),
                            xanchor="center", yanchor="top", showarrow=False,
                            font=dict(family=FONT, size=40, color="#000")))
    annotations.append(dict(text="Specimens (n)", xref=xa, yref="paper", x=75, y=fy(p["xtitle_y"]),
                            xanchor="center", yanchor="middle", showarrow=False,
                            font=dict(family=FONT, size=27, color="#111")))
    annotations.append(dict(text="Proportion (%)", xref="paper", yref=ya, x=fx(p["ytitle_x"]), y=50,
                            xanchor="center", yanchor="middle", textangle=-90, showarrow=False,
                            font=dict(family=FONT, size=27, color="#111")))

# legend (drawn manually)
legend_colors = [RED, "#66B8FF", "#EEEE00"]
legend_box_y = [1689, 1763, 1865]
legend_text_y = [[1689], [1761, 1797], [1861, 1897]]
for col, by, lines, tys in zip(legend_colors, legend_box_y, LEGEND_LABELS, legend_text_y):
    shapes.append(dict(type="rect", xref="paper", yref="paper",
                       x0=fx(1113), x1=fx(1148), y0=fy(by + 17.5), y1=fy(by - 17.5),
                       fillcolor=col, line=dict(color="#222", width=1.5)))
    for txt, ty in zip(lines, tys):
        annotations.append(dict(text=txt, xref="paper", yref="paper", x=fx(1169), y=fy(ty),
                                xanchor="left", yanchor="middle", showarrow=False,
                                font=dict(family=FONT, size=31, color="#111")))

fig.update_layout(width=W, height=H, margin=dict(l=0, r=0, t=0, b=0),
                  paper_bgcolor="white", plot_bgcolor="white", showlegend=False,
                  font=dict(family=FONT, color="#111"),
                  shapes=shapes, annotations=annotations, **layout_axes)

fig.write_html("out.html", config={"displayModeBar": False},
               post_script="document.body.style.margin='0';document.body.style.overflow='hidden';"
                           "document.documentElement.style.overflow='hidden';")
